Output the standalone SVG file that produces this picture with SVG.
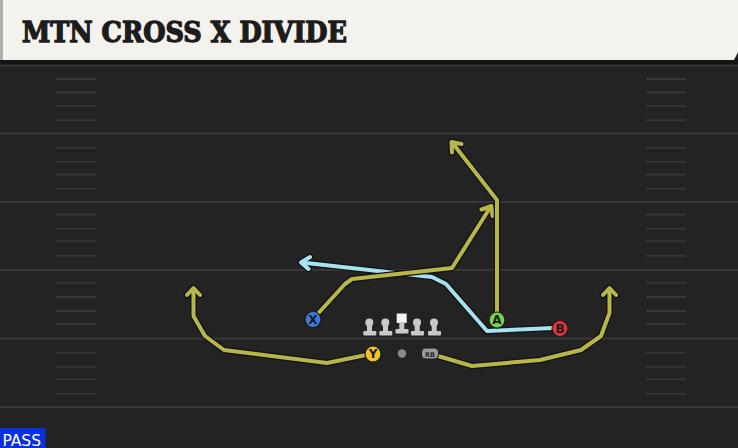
<svg xmlns="http://www.w3.org/2000/svg" width="738" height="448" viewBox="0 0 738 448">
<style>
.yard{stroke:#383838;stroke-width:2}
.hash{stroke:#363636;stroke-width:2}
.out{fill:none;stroke:#121212;stroke-width:6.5;stroke-linejoin:round;stroke-linecap:round}
.olive{fill:none;stroke:#b7b54c;stroke-width:4;stroke-linejoin:round;stroke-linecap:round}
.blue{fill:none;stroke:#a8e2f0;stroke-width:4;stroke-linejoin:round;stroke-linecap:round}
.pl{stroke:#1a1a1a;stroke-width:1.2}
.lbl{font-family:"DejaVu Sans","Liberation Sans",sans-serif;font-weight:bold;font-size:12px;fill:#1a1a1a;text-anchor:middle}
.ol{fill:#c9c9c9}
</style>
<rect x="0" y="0" width="738" height="448" fill="#232323"/>
<rect x="0" y="58" width="738" height="8" fill="#141414"/>
<g id="field">
<line class="yard" x1="0" y1="65.5" x2="738" y2="65.5"/>
<line class="yard" x1="0" y1="133.5" x2="738" y2="133.5"/>
<line class="yard" x1="0" y1="202" x2="738" y2="202"/>
<line class="yard" x1="0" y1="270" x2="738" y2="270"/>
<line class="yard" x1="0" y1="338.5" x2="738" y2="338.5"/>
<line class="yard" x1="0" y1="407" x2="738" y2="407"/>
<g id="hashes">
<path class="hash" d="M56 79H96M56 92.5H96M56 106.3H96M56 120.3H96M56 147.7H96M56 161.7H96M56 174.5H96M56 188.7H96M56 214.5H96M56 228.7H96M56 241.3H96M56 255.7H96M56 282.7H96M56 297H96M56 311H96M56 324H96M56 352.7H96M56 366.7H96M56 379.3H96M56 393.7H96"/>
<path class="hash" d="M646 79H686M646 92.5H686M646 106.3H686M646 120.3H686M646 147.7H686M646 161.7H686M646 174.5H686M646 188.7H686M646 214.5H686M646 228.7H686M646 241.3H686M646 255.7H686M646 282.7H686M646 297H686M646 311H686M646 324H686M646 352.7H686M646 366.7H686M646 379.3H686M646 393.7H686"/>
</g>
</g>
<g id="header">
<path d="M0 0H738V52L734 60H0Z" fill="#f4f2ec"/>
<rect x="0" y="0" width="3" height="60" fill="#b0b0b0"/>
<text x="22" y="42" font-family="'DejaVu Serif','Liberation Serif',serif" font-weight="bold" font-size="27" fill="#1c1c1c" stroke="#1c1c1c" stroke-width="1.3" stroke-linejoin="miter" textLength="325" lengthAdjust="spacingAndGlyphs">MTN CROSS X DIVIDE</text>
</g>
<g id="connectors">
<g id="route-y">
<path class="out" d="M366 355L327 363L224 350L205 336L193.5 316V289M187 295L193.5 288L200 295"/>
<path class="olive" d="M366 355L327 363L224 350L205 336L193.5 316V289M187 295L193.5 288L200 295"/>
</g>
<g id="route-rb">
<path class="out" d="M438 356L472 366L540 360L581 350L601 336L609.5 313V289M603 295L609.5 288L616 295"/>
<path class="olive" d="M438 356L472 366L540 360L581 350L601 336L609.5 313V289M603 295L609.5 288L616 295"/>
</g>
<g id="route-b">
<path class="out" d="M553 328L487 331L446 284L432 277L302 262.5M310 257L301 262.5L308.5 269"/>
<path class="blue" d="M553 328L487 331L446 284L432 277L302 262.5M310 257L301 262.5L308.5 269"/>
</g>
<g id="route-x">
<path class="out" d="M313 319L345 284L352 279L452 268L490.5 207M481.5 209.5L491.5 206L492.5 216"/>
<path class="olive" d="M313 319L345 284L352 279L452 268L490.5 207M481.5 209.5L491.5 206L492.5 216"/>
</g>
<g id="route-a">
<path class="out" d="M497 312V200L452.5 143M452 152.5L451.5 142L461.5 144"/>
<path class="olive" d="M497 312V200L452.5 143M452 152.5L451.5 142L461.5 144"/>
</g>
</g>
<g id="line">
<g id="lt"><circle class="ol" cx="369.3" cy="322.5" r="4"/><rect class="ol" x="367" y="322" width="5" height="10"/><rect class="ol" x="363.3" y="331" width="13" height="4.5" rx="1"/></g>
<g id="lg"><circle class="ol" cx="385.3" cy="322.5" r="4"/><rect class="ol" x="383" y="322" width="5" height="10"/><rect class="ol" x="379.3" y="331" width="13" height="4.5" rx="1"/></g>
<g id="c"><rect x="396.7" y="313.5" width="10" height="9.5" fill="#f4f4f4"/><rect class="ol" x="399.3" y="322" width="5" height="8"/><rect class="ol" x="395.5" y="329" width="13" height="4.5" rx="1"/></g>
<g id="rg"><circle class="ol" cx="417" cy="322.5" r="4"/><rect class="ol" x="414.7" y="322" width="5" height="10"/><rect class="ol" x="411" y="331" width="13" height="4.5" rx="1"/></g>
<g id="rt"><circle class="ol" cx="434" cy="322.5" r="4"/><rect class="ol" x="431.7" y="322" width="5" height="10"/><rect class="ol" x="428" y="331" width="13" height="4.5" rx="1"/></g>
</g>
<g id="ball"><circle cx="402" cy="353.5" r="4.2" fill="#8a8a8a"/></g>
<g id="rb"><rect x="421.5" y="348" width="17" height="11" rx="4" fill="#9a9a9a" stroke="#1a1a1a" stroke-width="1"/><text x="430" y="356.5" font-family="'DejaVu Sans',sans-serif" font-weight="bold" font-size="6.5" fill="#2a2a2a" text-anchor="middle">RB</text></g>
<g id="x"><circle class="pl" cx="313" cy="319.5" r="8" fill="#3d7bd8"/><text class="lbl" x="313" y="323.8">X</text></g>
<g id="a"><circle class="pl" cx="497" cy="320" r="8" fill="#72d24a"/><text class="lbl" x="497" y="324.3">A</text></g>
<g id="b"><circle class="pl" cx="560" cy="328.5" r="8" fill="#e0343c"/><text class="lbl" x="560" y="332.8">B</text></g>
<g id="y"><circle class="pl" cx="373" cy="354" r="8" fill="#f2c22c"/><text class="lbl" x="373" y="358.3">Y</text></g>
<g id="pass"><rect x="0" y="428" width="45.5" height="20" fill="#0a30e0"/><text x="2.5" y="445.5" font-family="'DejaVu Sans Condensed','Roboto','Liberation Sans',sans-serif" font-size="16" fill="#ffffff" textLength="38.5" lengthAdjust="spacingAndGlyphs">PASS</text></g>
</svg>
